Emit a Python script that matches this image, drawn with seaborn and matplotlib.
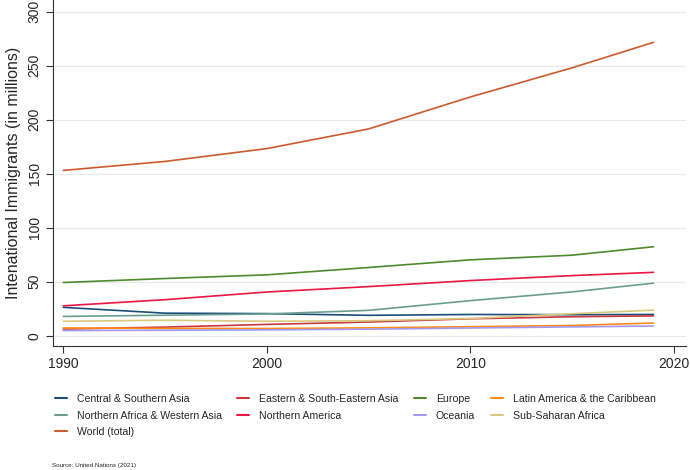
import pandas as pd
import matplotlib
matplotlib.use("Agg")
import matplotlib.pyplot as plt
import seaborn as sns

# data: UN international migrant stock, millions
years = [1990, 1995, 2000, 2005, 2010, 2015, 2019]
central_southern_asia = [26.2, 20.8, 20.4, 18.8, 19.6, 19.4, 19.6]
eastern_se_asia = [6.1, 7.9, 10.4, 12.6, 15.6, 17.5, 18.3]
europe = [49.2, 52.9, 56.3, 63.1, 70.2, 74.5, 82.3]
latin_america = [7.1, 6.7, 6.6, 7.2, 8.3, 9.4, 11.7]
n_africa_w_asia = [17.8, 18.9, 20.1, 23.4, 32.4, 40.5, 48.6]
northern_america = [27.6, 33.3, 40.4, 45.4, 51.0, 55.6, 58.6]
oceania = [4.7, 5.0, 5.4, 6.0, 7.1, 8.1, 8.9]
sub_saharan = [13.3, 14.3, 13.3, 13.8, 15.9, 20.3, 23.6]
world = [153.0, 161.3, 173.2, 191.4, 221.0, 248.0, 271.6]

series = {
    "Central & Southern Asia": central_southern_asia,
    "Eastern & South-Eastern Asia": eastern_se_asia,
    "Europe": europe,
    "Latin America & the Caribbean": latin_america,
    "Northern Africa & Western Asia": n_africa_w_asia,
    "Northern America": northern_america,
    "Oceania": oceania,
    "Sub-Saharan Africa": sub_saharan,
    "World (total)": world,
}

colores = {
    "Central & Southern Asia": "#1a4e7a",
    "Eastern & South-Eastern Asia": "#c8383f",
    "Europe": "#4f8a2c",
    "Latin America & the Caribbean": "#ff8a1c",
    "Northern Africa & Western Asia": "#6b9e90",
    "Northern America": "#ea1744",
    "Oceania": "#a397ee",
    "Sub-Saharan Africa": "#d9c97c",
    "World (total)": "#cc5a2c",
}

filas = []
for region, vals in series.items():
    for y, v in zip(years, vals):
        filas.append({"year": y, "value": v, "region": region})
df = pd.DataFrame(filas)

sns.set_style("white")
plt.rcParams["font.family"] = ["Liberation Sans", "DejaVu Sans"]

fig = plt.figure(figsize=(6.9, 4.7), dpi=100)
ax = fig.add_axes([0.0764, 0.2645, 0.9176, 0.7355])

for y in [0, 50, 100, 150, 200, 250, 300]:
    ax.axhline(y, color="#eaeaea", lw=0.8, zorder=0)

sns.lineplot(data=df, x="year", y="value", hue="region", palette=colores,
             hue_order=list(series.keys()), lw=1.2, ax=ax, legend=False)

ax.set_xlim(1989.48, 2020.59)
ax.set_ylim(-9.3, 310.8)
ax.set_xticks([1990, 2000, 2010, 2020])
ax.set_yticks([0, 50, 100, 150, 200, 250, 300])
ax.tick_params(axis="both", bottom=True, left=True, length=5, width=0.8,
               color="#333333", labelsize=10, pad=3)
for lab in ax.get_yticklabels():
    lab.set_rotation(90)
    lab.set_va("center")
ax.set_xlabel("")
ax.set_ylabel("Intenational Immigrants (in millions)", fontsize=11.5, labelpad=5)
for s in ["top", "right"]:
    ax.spines[s].set_visible(False)
for s in ["left", "bottom"]:
    ax.spines[s].set_color("#333333")
    ax.spines[s].set_linewidth(0.8)

# legend, column-major order to match row-wise layout
orden = ["Central & Southern Asia", "Northern Africa & Western Asia", "World (total)",
         "Eastern & South-Eastern Asia", "Northern America",
         "Europe", "Oceania",
         "Latin America & the Caribbean", "Sub-Saharan Africa"]
handles = [plt.Line2D([], [], color=colores[r], lw=1.5) for r in orden]
fig.legend(handles, orden, loc="upper left", bbox_to_anchor=(55 / 690, 1 - 394 / 470),
           ncol=4, frameon=False, fontsize=7.6, handlelength=1.1, handletextpad=0.95,
           columnspacing=1.5, labelspacing=0.62, borderpad=0, borderaxespad=0)

fig.text(52 / 690, 1 - 465 / 470, "Source: United Nations (2021)", fontsize=4.5,
         va="center", ha="left", color="#222222")

fig.savefig("out.png", dpi=100)
